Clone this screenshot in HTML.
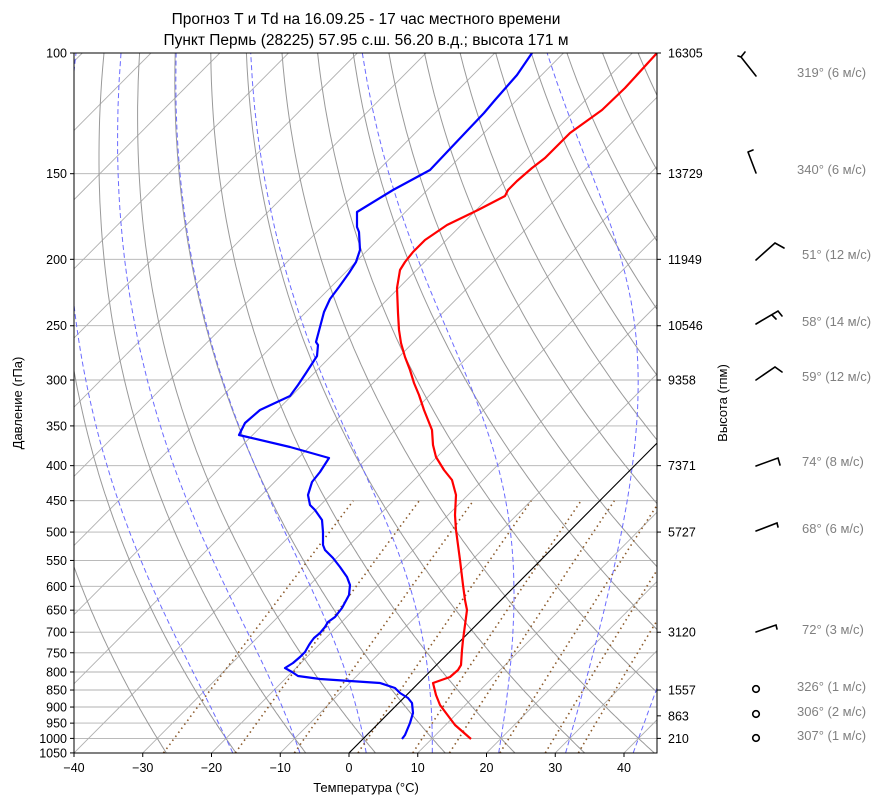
<!DOCTYPE html>
<html><head><meta charset="utf-8"><style>
body{margin:0;background:#fff;}
svg{display:block;font-family:"Liberation Sans","DejaVu Sans",sans-serif;}
</style></head><body>
<svg id="s" width="895" height="806" viewBox="0 0 895 806" xmlns="http://www.w3.org/2000/svg">
<defs><clipPath id="c"><rect x="74" y="53" width="583" height="700"/></clipPath></defs>
<g id="grid" clip-path="url(#c)"></g>
<g clip-path="url(#c)" fill="none" stroke-width="2.2" stroke-linejoin="round">
<polyline stroke="#ff0000" points="471,739 455,725 440,705 436,695 433,683 450,677 458,670 461,665 462,650 463,640 465,625 467,610 465,600 463,585 460,560 458,545 456,530 455,515 456,495 452,480 444,470 436,457 433,445 432,430 428,420 424,410 419,395 414,383 410,370 405,357 401,343 399,330 398,313 397,288 400,270 405,262 413,252 425,240 447,225 478,210 505,196 508,190 517,181 532,168 545,158 557,146 570,133 602,110 625,88 657,53"/>
<polyline stroke="#0000ff" points="402,739 405,735 410,723 413,713 412,703 408,698 400,693 395,688 380,683 320,679 298,676 292,672 285,668 293,663 300,657 305,652 309,645 311,642 314,638 320,633 325,627 328,622 335,617 342,608 349,595 350,585 347,577 340,567 333,558 325,550 323,545 323,532 322,520 315,510 310,505 308,495 312,482 320,472 329,458 290,447 239,435 245,423 260,410 290,396 298,385 306,373 317,356 318,345 316,342 320,327 324,312 330,299 339,287 349,273 356,262 360,250 359,232 357,227 357,212 393,190 430,170 447,152 465,133 484,113 495,100 517,75 532,53"/>
</g>
<rect x="74" y="53" width="583" height="700" fill="none" stroke="#000" stroke-width="1"/>
<g id="ticks" stroke="#000" stroke-width="1"></g>
<g font-size="12.5" fill="#000">
<text x="366" y="24" text-anchor="middle" font-size="15.5">Прогноз T и Td на 16.09.25 - 17 час местного времени</text>
<text x="366" y="45" text-anchor="middle" font-size="15.5">Пункт Пермь (28225) 57.95 с.ш. 56.20 в.д.; высота 171 м</text>
<text x="366" y="792" text-anchor="middle" font-size="13">Температура (°C)</text>
<text transform="translate(22,403) rotate(-90)" text-anchor="middle" font-size="13">Давление (гПа)</text>
<text transform="translate(727,403) rotate(-90)" text-anchor="middle" font-size="13">Высота (гпм)</text>
<g id="labels"></g>
</g>
<g stroke="#000" stroke-width="1.6" fill="none" stroke-linecap="round">
<path d="M741,57 L756,76 M741,57 L745,52 M741,57 L738,56"/>
<path d="M748,152 L756,173 M748,152 L753,150"/>
<path d="M756,260 L775,243 L784,248"/>
<path d="M756,324 L778,311 L782,316 M772,315 L776,319"/>
<path d="M756,380 L775,367 L782,372"/>
<path d="M756,466 L778,458 L780,465"/>
<path d="M756,531 L777,523 L778,527"/>
<path d="M756,632 L776,625 L777,629"/>
<circle cx="756" cy="689" r="3.3"/><circle cx="756" cy="714" r="3.3"/><circle cx="756" cy="738" r="3.3"/>
</g>
<g font-size="13" fill="#808080">
<text x="797" y="77">319° (6 м/с)</text>
<text x="797" y="174">340° (6 м/с)</text>
<text x="802" y="259">51° (12 м/с)</text>
<text x="802" y="326">58° (14 м/с)</text>
<text x="802" y="381">59° (12 м/с)</text>
<text x="802" y="466">74° (8 м/с)</text>
<text x="802" y="533">68° (6 м/с)</text>
<text x="802" y="634">72° (3 м/с)</text>
<text x="797" y="691">326° (1 м/с)</text>
<text x="797" y="716">306° (2 м/с)</text>
<text x="797" y="740">307° (1 м/с)</text>
</g>
</svg>
<script>
var NS="http://www.w3.org/2000/svg";
function Y(p){return 53+(Math.log10(p)-2)*685.4;}
function X(T,p){return 349+6.875*T+(753-Y(p))*0.994;}
var g=document.getElementById('grid');
function line(pts,stroke,w,dash){var e=document.createElementNS(NS,'polyline');e.setAttribute('points',pts.map(function(a){return a[0].toFixed(1)+','+a[1].toFixed(1)}).join(' '));e.setAttribute('fill','none');e.setAttribute('stroke',stroke);e.setAttribute('stroke-width',w);if(dash)e.setAttribute('stroke-dasharray',dash);g.appendChild(e);}
var P=[];for(var p=1050;p>=100;p-=5)P.push(p);
var isob=[100,150,200,250,300,350,400,450,500,550,600,650,700,750,800,850,900,950,1000,1050];
isob.forEach(function(p){line([[74,Y(p)],[657,Y(p)]],'#b0b0b0',0.9);});
for(var T=-160;T<=50;T+=10){line([[X(T,1050),Y(1050)],[X(T,100),Y(100)]],'#b0b0b0',0.9);}
for(var t=-30;t<200;t+=10){var pts=[];P.forEach(function(p){var Tk=(t+273.15)*Math.pow(p/1000,0.2857)-273.15;pts.push([X(Tk,p),Y(p)]);});line(pts,'#999',1);}
function es(Tc){return 6.112*Math.exp(17.67*Tc/(Tc+243.5));}
function dTdp(T,p){var Rd=287.04,Cp=1005.7,Lv=2.501e6,e=0.622;var rs=e*es(T-273.15)/(p-es(T-273.15));return (Rd*T+Lv*rs)/(Cp+Lv*Lv*rs*e/(Rd*T*T))/p;}
var m0=[-20,-10,0,10,20,30,40];
m0.forEach(function(t0){var T=t0+273.15,pts=[];
 var Td=T;for(var p=1000;p<1050;p+=1){Td+=dTdp(Td,p)*1;}pts.push([X(Td-273.15,1050),Y(1050)]);
 var p=1000;pts.push([X(T-273.15,p),Y(p)]);
 while(p>100){var h=-2;var k1=dTdp(T,p),k2=dTdp(T+h/2*k1,p+h/2),k3=dTdp(T+h/2*k2,p+h/2),k4=dTdp(T+h*k3,p+h);T+=h/6*(k1+2*k2+2*k3+k4);p+=h;if(p%10==0)pts.push([X(T-273.15,p),Y(p)]);}
 line(pts,'#6b6bff',1,'5,3');});
[0.0004,0.001,0.002,0.004,0.007,0.01,0.016,0.024,0.032].forEach(function(w){var pts=[];for(var p=1050;p>=450;p-=10){var e=w*p/(0.622+w),l=Math.log(e/6.112),Td=243.5*l/(17.67-l);pts.push([X(Td,p),Y(p)]);}line(pts,'#8b5a2b',1.6,'1.5,3.5');});
line([[X(0,1050),Y(1050)],[X(0,100),Y(100)]],'#000',1.1);
var tk=document.getElementById('ticks'),lb=document.getElementById('labels');
function tl(x1,y1,x2,y2){var e=document.createElementNS(NS,'line');e.setAttribute('x1',x1);e.setAttribute('y1',y1);e.setAttribute('x2',x2);e.setAttribute('y2',y2);tk.appendChild(e);}
function tx(x,y,s,a){var e=document.createElementNS(NS,'text');e.setAttribute('x',x);e.setAttribute('y',y);e.setAttribute('text-anchor',a);e.textContent=s;lb.appendChild(e);}
isob.forEach(function(p){var y=Y(p);tl(74,y,70,y);tx(67,y+4.5,String(p),'end');});
for(var T=-40;T<=40;T+=10){var x=349+6.875*T;tl(x,753,x,757);tx(x,772,String(T).replace('-','−'),'middle');}
[[100,'16305'],[150,'13729'],[200,'11949'],[250,'10546'],[300,'9358'],[400,'7371'],[500,'5727'],[700,'3120'],[850,'1557'],[927,'863'],[1000,'210']].forEach(function(a){var y=Y(a[0]);tl(657,y,661,y);tx(668,y+4.5,a[1],'start');});
</script>
</body></html>
